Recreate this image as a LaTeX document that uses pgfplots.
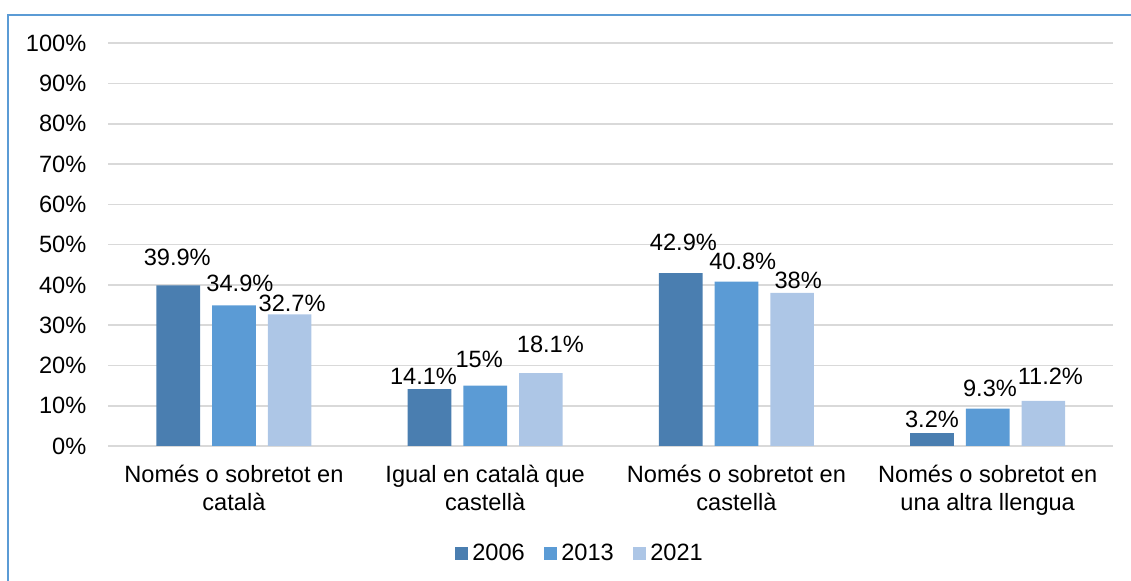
\documentclass[border=0pt]{standalone}
\usepackage{fontspec}
\setmainfont{Liberation Sans}
\usepackage{pgfplots}
\usepackage{pgfplotstable}
\pgfplotsset{compat=1.18}
\definecolor{cA}{HTML}{4A7EB0}
\definecolor{cB}{HTML}{5B9BD5}
\definecolor{cC}{HTML}{ADC6E6}
\definecolor{gridc}{HTML}{D9D9D9}
\definecolor{bord}{HTML}{5B9BD5}
\newcommand{\fz}{\fontsize{11.8}{14}\selectfont}

\pgfplotstableread{
x y dx dy
0 39.9 -1 20
1 14.1 -6 5
2 42.9 2.7 22.6
3 3.2 0 5.4
}\tA
\pgfplotstableread{
x y dx dy
0 34.9 6 14
1 15 -6 17.6
2 40.8 6.3 11.7
3 9.3 2.3 11.6
}\tB
\pgfplotstableread{
x y dx dy
0 32.7 2.5 3
1 18.1 9.5 20.3
2 38 6 4
3 11.2 7 16.7
}\tC

\begin{document}
\begin{tikzpicture}
\useasboundingbox (0,0) rectangle (565.5pt,290.5pt);
\draw[bord, line width=1pt] (4.15pt,0) -- (4.15pt,283pt) -- (565.5pt,283pt);
\begin{axis}[
  at={(54.15pt,67.5pt)}, anchor=south west,
  scale only axis, width=502.5pt, height=201.35pt,
  xmin=-0.5, xmax=3.5, ymin=0, ymax=100,
  /pgf/number format/assume math mode=true,
  ytick={0,10,...,100},
  yticklabel={\pgfmathprintnumber{\tick}\%},
  yticklabel style={font=\fz, inner sep=0pt, anchor=east, xshift=-10.8pt},
  xtick={0,1,2,3},
  xticklabels={{Només o sobretot en\\català},{Igual en català que\\castellà},{Només o sobretot en\\castellà},{Només o sobretot en\\una altra llengua}},
  xticklabel style={font=\fz, align=center, inner sep=0pt, anchor=north, yshift=-9.5pt},
  major tick length=0pt,
  ymajorgrids, grid style={draw=gridc, line width=0.85pt},
  axis line style={draw=none},
  ybar, bar width=21.85pt,
  clip=false,
  legend columns=3,
  legend style={at={(0.4684,-0.2674)}, anchor=center, draw=none, fill=none, inner sep=0pt,
    font=\fz, nodes={inner sep=0pt},
    /tikz/every even column/.append style={column sep=9.75pt}},
  legend image code/.code={\fill[#1] (0pt,-3.25pt) rectangle (6.5pt,3.25pt); \path (8.5pt,0pt);},
  nodes near coords={\pgfmathprintnumber{\pgfplotspointmeta}\%},
  visualization depends on={\thisrow{dx} \as \dxv},
  visualization depends on={\thisrow{dy} \as \dyv},
  every node near coord/.append style={font=\fz, anchor=base, inner sep=0pt, xshift=\dxv*0.5pt, yshift=\dyv*0.5pt, text=black},
]
\addplot[fill=cA, draw=none, bar shift=-27.85pt] table[x=x, y=y, meta=y] {\tA};
\addplot[fill=cB, draw=none, bar shift=0pt] table[x=x, y=y, meta=y] {\tB};
\addplot[fill=cC, draw=none, bar shift=27.85pt] table[x=x, y=y, meta=y] {\tC};
\legend{2006,2013,2021}
\end{axis}
\end{tikzpicture}
\end{document}
